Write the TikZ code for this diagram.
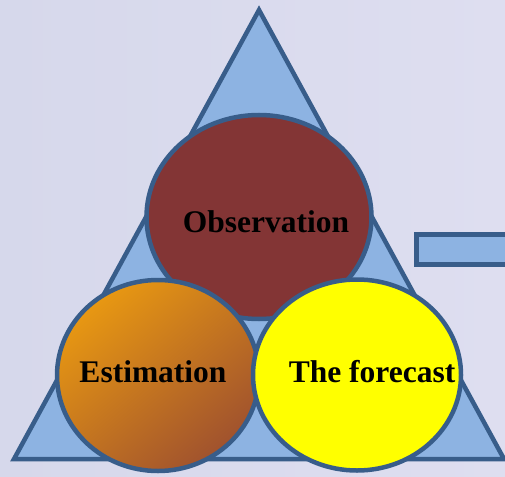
\documentclass[tikz,border=0pt]{standalone}
\usepackage{fontspec}
\setmainfont{Liberation Serif}
\usetikzlibrary{shapes.geometric}
\definecolor{bgc}{RGB}{214,216,235}
\definecolor{bgd}{RGB}{222,222,240}
\definecolor{trifill}{RGB}{141,179,226}
\definecolor{edge}{RGB}{56,93,138}
\definecolor{obsfill}{RGB}{131,53,53}
\definecolor{orA}{RGB}{232,152,18}
\definecolor{orB}{RGB}{160,82,46}
\definecolor{fcfill}{RGB}{255,255,0}
\tikzset{
  blob/.style={ellipse, draw=edge, line width=4.5pt, inner sep=0pt},
  lbl/.style={anchor=base, font=\bfseries\fontsize{31.5}{34}\selectfont, text=black, inner sep=0pt},
  frame/.style={draw=edge, fill=trifill, line width=4.5pt, line join=miter}
}
\begin{document}
\begin{tikzpicture}[x=1pt,y=-1pt]
\useasboundingbox (0,0) rectangle (505,476);
\shade[left color=bgc, right color=bgd] (0,0) rectangle (505,476);
% triangle
\coordinate (apex) at (259,10);
\coordinate (bl) at (14,459);
\coordinate (br) at (504,459);
\draw[frame] (apex) -- (bl) -- (br) -- cycle;
% circles
\node[blob, fill=obsfill, minimum width=225pt, minimum height=204pt] (obs) at (259,217) {};
\node[blob, top color=orA, bottom color=orB, shading angle=40, minimum width=202pt, minimum height=191pt] (est) at (158,375.5) {};
\node[blob, fill=fcfill, minimum width=208pt, minimum height=191pt] (fc) at (357,375) {};
% rectangle at right
\coordinate (r1) at (416.5,234.5);
\coordinate (r2) at (525,264.5);
\draw[frame] (r1) rectangle (r2);
% labels
\node[lbl] (tobs) at (266,232) {Observation};
\node[lbl] (test) at (153,382) {Estimation};
\node[lbl] (tfc) at (372,382) {The forecast};
\end{tikzpicture}
\end{document}
